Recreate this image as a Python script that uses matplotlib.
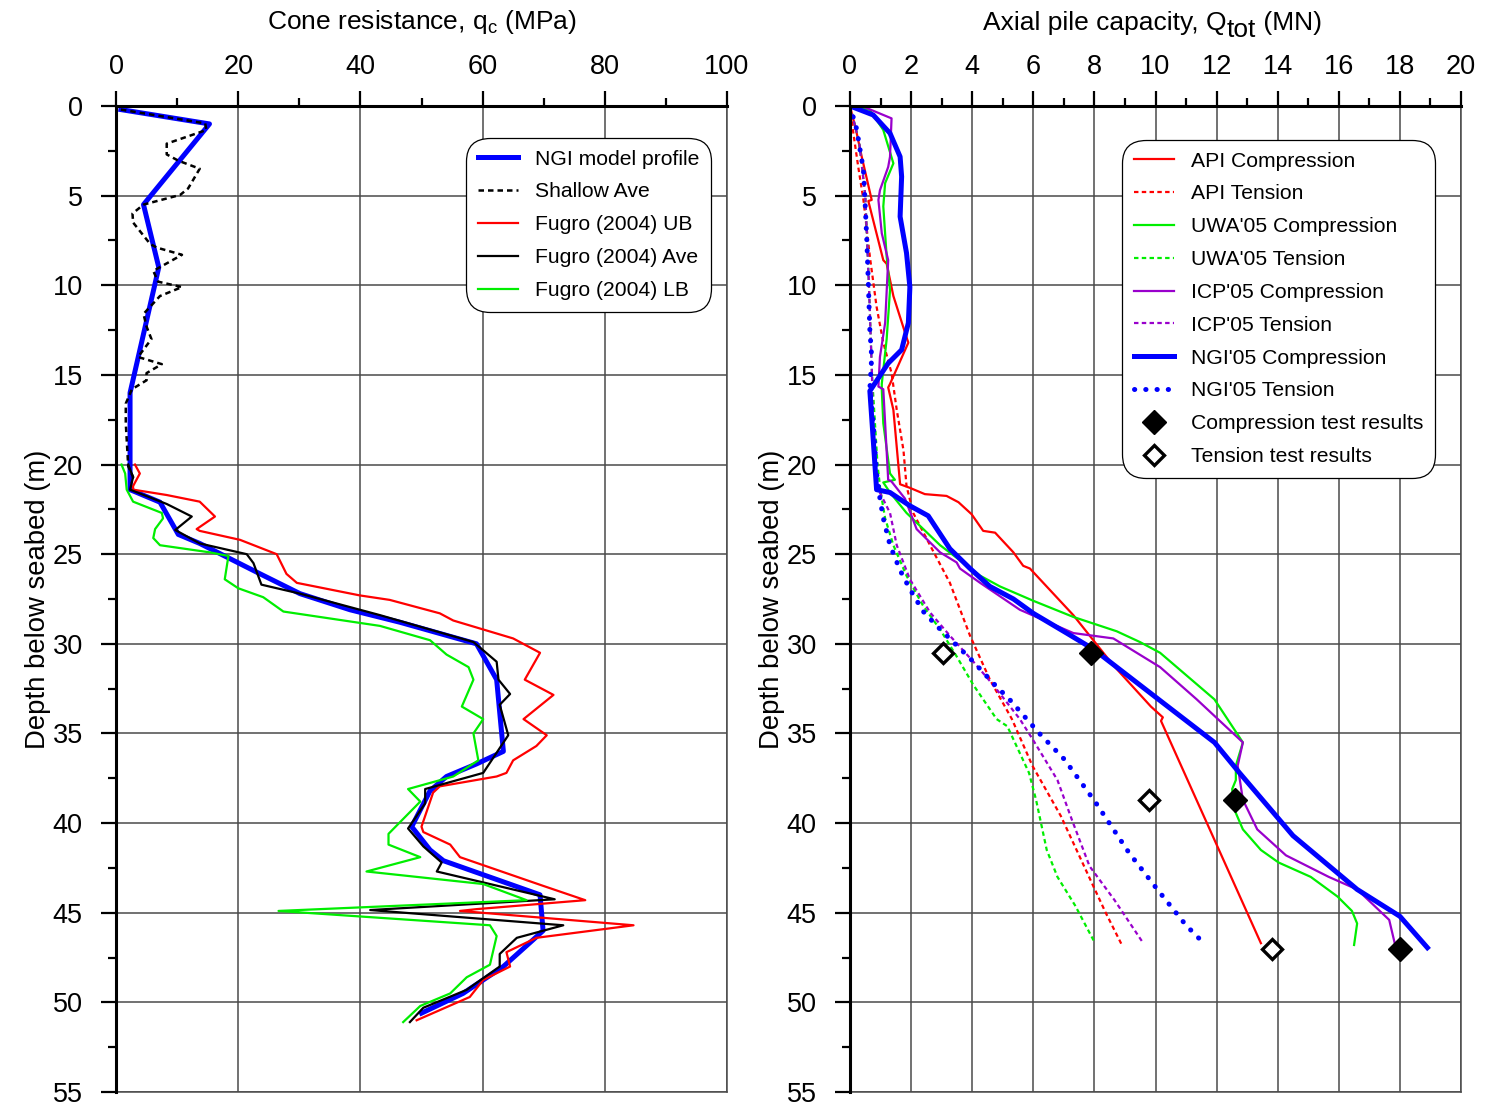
import matplotlib
matplotlib.use("Agg")
import matplotlib.pyplot as plt
from matplotlib.ticker import MultipleLocator

plt.rcParams['font.family'] = ['Liberation Sans', 'DejaVu Sans']
plt.rcParams['mathtext.fontset'] = 'custom'
plt.rcParams['mathtext.rm'] = 'Liberation Sans'
plt.rcParams['mathtext.it'] = 'Liberation Sans'

# ---------------- Cone resistance profiles (depth m, qc MPa) ----------------
ngi_depth = [0.2, 1.0, 5.5, 9.0, 16.0, 21.4, 22.1, 23.9, 24.4, 26.1, 27.2, 28.1, 28.8,
             30.0, 32.0, 36.0, 36.7, 37.4, 38.2, 40.2, 41.5, 42.1, 44.0, 46.0, 46.5,
             48.0, 49.5, 50.6]
ngi_qc = [0.8, 15.3, 4.5, 7.0, 2.3, 2.3, 7.2, 10.2, 13.7, 23.6, 30.1, 38.3, 46.5,
          59.0, 62.3, 63.4, 59.0, 54.1, 51.4, 48.4, 51.4, 53.6, 69.4, 69.9, 68.3,
          63.4, 56.8, 50.0]

shallow_depth = [0.2, 0.97, 1.34, 2.1, 2.7, 3.05, 3.5, 4.6, 4.96, 5.5, 6.0, 6.5, 7.7,
                 7.9, 8.3, 9.2, 9.8, 10.1, 10.6, 11.6, 12.3, 13.0, 14.0, 14.4, 14.9,
                 15.3, 15.8, 16.6, 17.7, 20.1, 20.7, 21.0]
shallow_qc = [0.8, 14.6, 14.8, 8.3, 8.3, 10.2, 13.7, 11.8, 10.5, 4.5, 2.7, 2.8, 5.6,
              6.7, 10.8, 6.1, 6.9, 10.8, 7.2, 4.5, 5.0, 5.8, 3.6, 7.5, 5.0,
              5.0, 2.6, 1.6, 1.6, 2.0, 2.8, 2.5]

ub_depth = [20.0, 20.5, 21.2, 21.4, 21.7, 22.07, 22.9, 23.6, 23.7, 24.2, 25.0, 26.1,
            26.6, 27.3, 27.55, 28.3, 28.7, 29.7, 30.5, 32.0, 32.85, 34.2, 35.1, 35.7,
            36.5, 37.2, 37.4, 37.95, 38.3, 40.2, 40.5, 41.2, 41.9, 43.5, 44.3, 44.8,
            44.9, 45.7, 46.4, 47.2, 48.0, 48.75, 49.7, 51.0]
ub_qc = [3.1, 3.9, 2.8, 2.8, 8.3, 13.7, 16.2, 13.2, 13.7, 20.3, 26.3, 27.9,
         29.6, 39.9, 44.8, 53.0, 55.2, 65.0, 69.4, 66.9, 71.6, 66.7, 70.5, 68.8,
         65.0, 63.9, 62.3, 53.0, 51.9, 50.0, 50.3, 54.7, 56.3, 69.9, 76.8, 59.0,
         56.3, 84.7, 68.8, 63.9, 64.5, 60.1, 57.9, 49.2]

ave_depth = [20.0, 20.7, 21.4, 22.2, 22.9, 23.65, 24.4, 25.0, 25.5, 26.7, 27.2, 28.4,
             29.9, 31.0, 32.0, 32.8, 33.4, 35.1, 37.2, 38.1, 38.9, 40.3, 41.3, 42.2,
             42.7, 44.25, 44.85, 45.7, 46.4, 47.3, 48.0, 49.3, 50.3, 51.1]
ave_qc = [2.0, 2.8, 2.3, 8.3, 12.4, 9.7, 13.7, 21.4, 22.5, 23.8, 30.1, 43.2,
          58.5, 62.3, 62.6, 64.5, 62.8, 64.2, 60.1, 50.6, 50.6, 47.8, 50.3, 53.3,
          52.5, 71.8, 41.6, 73.2, 65.6, 62.8, 62.8, 57.4, 50.3, 48.1]

lb_depth = [20.0, 20.5, 21.4, 22.07, 22.7, 23.0, 23.6, 24.1, 24.5, 24.9, 25.1, 26.4,
            26.9, 27.4, 28.2, 29.0, 29.8, 30.6, 31.3, 32.0, 33.5, 34.2, 35.0, 36.5,
            37.4, 38.1, 38.8, 40.6, 41.2, 41.9, 42.7, 43.4, 44.3, 44.9, 45.7, 46.3,
            47.9, 48.6, 49.5, 50.2, 51.1]
lb_qc = [0.9, 1.5, 1.75, 2.8, 7.5, 7.7, 6.4, 6.1, 7.2, 15.4, 18.4, 17.8,
         20.0, 24.1, 27.4, 43.2, 51.4, 54.1, 57.7, 58.5, 56.6, 60.1, 58.5, 59.3,
         55.2, 47.8, 49.8, 44.6, 44.6, 49.8, 41.0, 60.1, 67.2, 26.6, 61.2, 62.3,
         61.2, 57.4, 54.7, 49.8, 47.0]

# ---------------- Axial pile capacity (depth m, Q MN) ----------------
api_c_depth = [0, 1.52, 2.8, 5.24, 5.3, 8.6, 8.8, 10.6, 12.9, 13.2, 15.5, 15.7, 16.95,
               21.1, 21.3, 21.65, 21.75, 22.1, 22.77, 23.7, 23.8, 24.9, 25.65, 25.8,
               28.4, 31.2, 33.5, 34.1, 34.3, 46.7]
api_c_q = [0, 0.22, 0.38, 0.71, 0.6, 1.09, 1.2, 1.42, 1.85, 1.91, 1.31, 1.25, 1.42,
           1.64, 1.96, 2.45, 3.16, 3.55, 3.98, 4.36, 4.75, 5.35, 5.67, 5.89,
           7.31, 8.62, 9.85, 10.24, 10.18, 13.45]

api_t_depth = [0, 1.52, 3.4, 5.24, 8.4, 11.2, 13.2, 14.9, 16.95, 19.2, 21.2, 22.7,
               24.5, 26.6, 29.55, 32.0, 34.2, 36.8, 39.6, 43.5, 45.0, 46.8]
api_t_q = [0, 0.11, 0.27, 0.44, 0.65, 0.87, 1.09, 1.36, 1.53, 1.75, 1.85, 2.07,
           2.62, 3.27, 3.93, 4.58, 5.3, 5.97, 6.9, 7.96, 8.37, 8.9]

uwa_c_depth = [0, 0.22, 1.34, 3.2, 4.3, 5.6, 8.4, 10.26, 13.0, 15.5, 15.8, 17.7, 20.5,
               20.85, 21.0, 21.56, 22.7, 24.5, 26.2, 26.8, 27.6, 28.5, 29.3, 29.9,
               30.5, 33.1, 35.5, 36.8, 37.6, 38.1, 39.2, 40.35, 41.5, 42.2, 43.0,
               44.1, 44.9, 45.6, 46.8]
uwa_c_q = [0, 0.65, 1.09, 1.42, 1.15, 1.09, 1.2, 1.31, 1.2, 1.04, 1.04, 1.09, 1.31,
           1.47, 1.09, 1.31, 1.85, 2.95, 4.26, 4.91, 6.0, 7.31, 8.73, 9.49,
           10.15, 11.93, 12.86, 12.63, 12.63, 12.51, 12.57, 12.86, 13.45, 14.03, 15.08,
           15.96, 16.43, 16.6, 16.5]

uwa_t_depth = [0, 2.0, 5.0, 10.0, 15.0, 20.0, 21.5, 23.0, 24.5, 26.2, 27.9, 29.2,
               30.7, 32.3, 34.2, 34.6, 37.2, 38.7, 41.5, 43.0, 44.6, 46.5, 46.7]
uwa_t_q = [0, 0.3, 0.5, 0.62, 0.72, 0.9, 1.0, 1.15, 1.42, 1.85, 2.4, 2.95,
           3.49, 4.04, 4.8, 5.15, 5.86, 6.09, 6.44, 6.79, 7.37, 7.96, 7.96]

icp_c_depth = [0, 0.04, 0.69, 2.83, 3.4, 4.7, 5.24, 7.1, 8.6, 12.1, 14.0, 15.65,
               15.8, 20.85, 20.95, 21.9, 23.6, 24.9, 25.46, 25.8, 26.6, 28.1, 29.4,
               29.7, 31.3, 33.1, 35.5, 36.8, 38.7, 40.35, 41.8, 43.0, 43.7, 45.4, 46.7]
icp_c_q = [0, 0.44, 1.36, 1.31, 1.25, 0.98, 0.93, 1.04, 1.25, 1.15, 0.98, 0.93,
           1.09, 1.25, 1.36, 1.8, 2.18, 2.95, 3.49, 3.6, 4.26, 5.56, 7.31,
           8.62, 10.15, 11.35, 12.86, 12.69, 12.86, 13.33, 14.27, 15.67, 16.6, 17.65, 17.83]

icp_t_depth = [0, 2.0, 5.0, 10.0, 15.0, 19.55, 21.2, 22.7, 24.5, 26.4, 28.25, 29.55,
               31.0, 32.3, 34.2, 35.3, 37.6, 39.8, 42.4, 44.3, 46.7]
icp_t_q = [0, 0.3, 0.5, 0.62, 0.72, 0.76, 0.87, 1.31, 1.53, 1.96, 2.62, 3.27,
           4.04, 4.69, 5.56, 5.97, 6.79, 7.26, 7.84, 8.66, 9.6]

ngi_c_depth = [0, 0.5, 1.52, 2.83, 3.94, 6.17, 8.2, 10.1, 12.1, 13.6, 14.35, 15.9,
               18.6, 21.4, 21.56, 22.3, 22.86, 24.7, 25.8, 26.8, 27.5, 28.3, 29.4,
               30.3, 33.1, 35.5, 37.2, 40.7, 43.7, 45.2, 46.95]
ngi_c_q = [0, 0.76, 1.31, 1.64, 1.69, 1.64, 1.85, 1.96, 1.91, 1.69, 1.25, 0.65,
           0.76, 0.87, 1.31, 1.96, 2.56, 3.27, 3.93, 4.58, 5.35, 6.0, 7.09,
           7.97, 10.1, 11.93, 12.75, 14.5, 16.6, 18.0, 18.9]

ngi_t_depth = [0, 1.3, 2.45, 3.57, 5.24, 7.47, 9.9, 12.5, 14.0, 15.8, 17.7, 20.5,
               21.2, 21.9, 23.0, 24.5, 25.9, 26.95, 28.2, 29.0, 29.9, 31.0, 32.2,
               33.1, 35.0, 36.45, 38.8, 41.65, 43.7, 45.7, 46.7]
ngi_t_q = [0, 0.22, 0.33, 0.44, 0.49, 0.55, 0.60, 0.65, 0.71, 0.65, 0.76, 0.87,
           0.93, 0.98, 1.09, 1.31, 1.64, 1.96, 2.4, 2.84, 3.38, 4.04, 4.69,
           5.22, 6.2, 7.02, 8.02, 9.13, 10.06, 11.0, 11.58]

comp_test_depth = [30.5, 38.7, 47.0]
comp_test_q = [7.9, 12.6, 18.0]
tens_test_depth = [30.5, 38.7, 47.0]
tens_test_q = [3.05, 9.8, 13.8]

RED = '#ff0000'
GREEN = '#00ee00'
BLUE = '#0000ff'
PURPLE = '#9900cc'

W, H = 1490, 1104
fig = plt.figure(figsize=(W / 100, H / 100), dpi=100)
ax1 = fig.add_axes([116 / W, 1 - 1092 / H, 611 / W, 986 / H])
ax2 = fig.add_axes([850 / W, 1 - 1092 / H, 611 / W, 986 / H])

TICK_FS = 19.5
LABEL_FS = 19.0
YLABEL_FS = 19.8
LEG_FS = 15.2


def style_axes(ax, xmax, xmajor, xminor):
    ax.set_xlim(0, xmax)
    ax.set_ylim(55, 0)
    ax.xaxis.set_major_locator(MultipleLocator(xmajor))
    ax.xaxis.set_minor_locator(MultipleLocator(xminor))
    ax.yaxis.set_major_locator(MultipleLocator(5))
    ax.yaxis.set_minor_locator(MultipleLocator(2.5))
    ax.xaxis.tick_top()
    ax.tick_params(axis='both', which='major', direction='out', length=11, width=1.6,
                   labelsize=TICK_FS, color='black')
    ax.tick_params(axis='both', which='minor', direction='out', length=5.5, width=1.6,
                   color='black')
    ax.tick_params(axis='x', which='major', pad=8)
    ax.tick_params(axis='y', which='major', pad=13)
    ax.grid(True, which='major', color='#4a4a4a', linewidth=1.1)
    ax.set_axisbelow(True)
    for side in ('left', 'top'):
        ax.spines[side].set_linewidth(2.2)
        ax.spines[side].set_color('black')
        ax.spines[side].set_zorder(5)
    for side in ('right', 'bottom'):
        ax.spines[side].set_linewidth(1.1)
        ax.spines[side].set_color('#4a4a4a')
    ax.set_ylabel('Depth below seabed (m)', fontsize=YLABEL_FS, labelpad=1)


def add_legend(ax, left_px, top_px, right_px):
    x0 = (right_px - left_px) / 611
    y0 = (1092 - top_px) / 986
    leg = ax.legend(loc='upper right', bbox_to_anchor=(x0, y0), fontsize=LEG_FS,
                    frameon=True, fancybox=True, edgecolor='black', framealpha=1,
                    handlelength=1.9, handletextpad=0.8, labelspacing=0.655,
                    borderpad=0.55, borderaxespad=0)
    frame = leg.get_frame()
    frame.set_linewidth(0.9)
    frame.set_boxstyle('round,pad=0,rounding_size=1.1')
    return leg


style_axes(ax1, 100, 20, 10)
style_axes(ax2, 20, 2, 1)

# Left panel: cone resistance
ax1.plot(ngi_qc, ngi_depth, color=BLUE, lw=3.6, label='NGI model profile', zorder=3)
ax1.plot(shallow_qc, shallow_depth, color='black', lw=1.8, ls=(0, (2.2, 1.6)),
         label='Shallow Ave', zorder=4)
ax1.plot(ub_qc, ub_depth, color=RED, lw=1.6, label='Fugro (2004) UB', zorder=3)
ax1.plot(ave_qc, ave_depth, color='black', lw=1.6, label='Fugro (2004) Ave', zorder=3)
ax1.plot(lb_qc, lb_depth, color=GREEN, lw=1.6, label='Fugro (2004) LB', zorder=3)
add_legend(ax1, 116, 138, 711)

# Right panel: axial capacity
dash = (0, (2.0, 1.5))
ax2.plot(api_c_q, api_c_depth, color=RED, lw=1.6, label='API Compression', zorder=3)
ax2.plot(api_t_q, api_t_depth, color=RED, lw=1.6, ls=dash, label='API Tension', zorder=3)
ax2.plot(uwa_c_q, uwa_c_depth, color=GREEN, lw=1.6, label="UWA'05 Compression", zorder=3)
ax2.plot(uwa_t_q, uwa_t_depth, color=GREEN, lw=1.6, ls=dash, label="UWA'05 Tension", zorder=3)
ax2.plot(icp_c_q, icp_c_depth, color=PURPLE, lw=1.6, label="ICP'05 Compression", zorder=3)
ax2.plot(icp_t_q, icp_t_depth, color=PURPLE, lw=1.6, ls=dash, label="ICP'05 Tension", zorder=3)
ax2.plot(ngi_c_q, ngi_c_depth, color=BLUE, lw=3.6, label="NGI'05 Compression", zorder=4)
ax2.plot(ngi_t_q, ngi_t_depth, color=BLUE, lw=3.6, ls=(0, (0.05, 2.2)),
         dash_capstyle='round', label="NGI'05 Tension", zorder=4)
ax2.plot(comp_test_q, comp_test_depth, ls='none', marker='D', ms=12, color='black',
         mec='black', label='Compression test results', zorder=6)
ax2.plot(tens_test_q, tens_test_depth, ls='none', marker='D', ms=10.5, mfc='white',
         mec='black', mew=2.4, label='Tension test results', zorder=6)
add_legend(ax2, 850, 140, 1435)

# Axis titles across the top
fig.text((265 + 578) / 2 / W, 1 - 22 / H, r'Cone resistance, q$_\mathregular{c}$ (MPa)',
         ha='center', va='center', fontsize=LABEL_FS)

t1 = fig.text(983 / W, 1 - 30 / H, 'Axial pile capacity, Q', ha='left',
              va='baseline', fontsize=LABEL_FS)
t2 = ax2.annotate('tot', xy=(1, 0), xycoords=t1, xytext=(0, -5),
                  textcoords='offset points', ha='left', va='bottom', fontsize=LABEL_FS,
                  annotation_clip=False)
t3 = ax2.annotate(' (MN)', xy=(1, 0), xycoords=(t2, t1), xytext=(0, 0),
                  textcoords='offset points', ha='left', va='bottom', fontsize=LABEL_FS,
                  annotation_clip=False)

fig.savefig('out.png', dpi=100)
